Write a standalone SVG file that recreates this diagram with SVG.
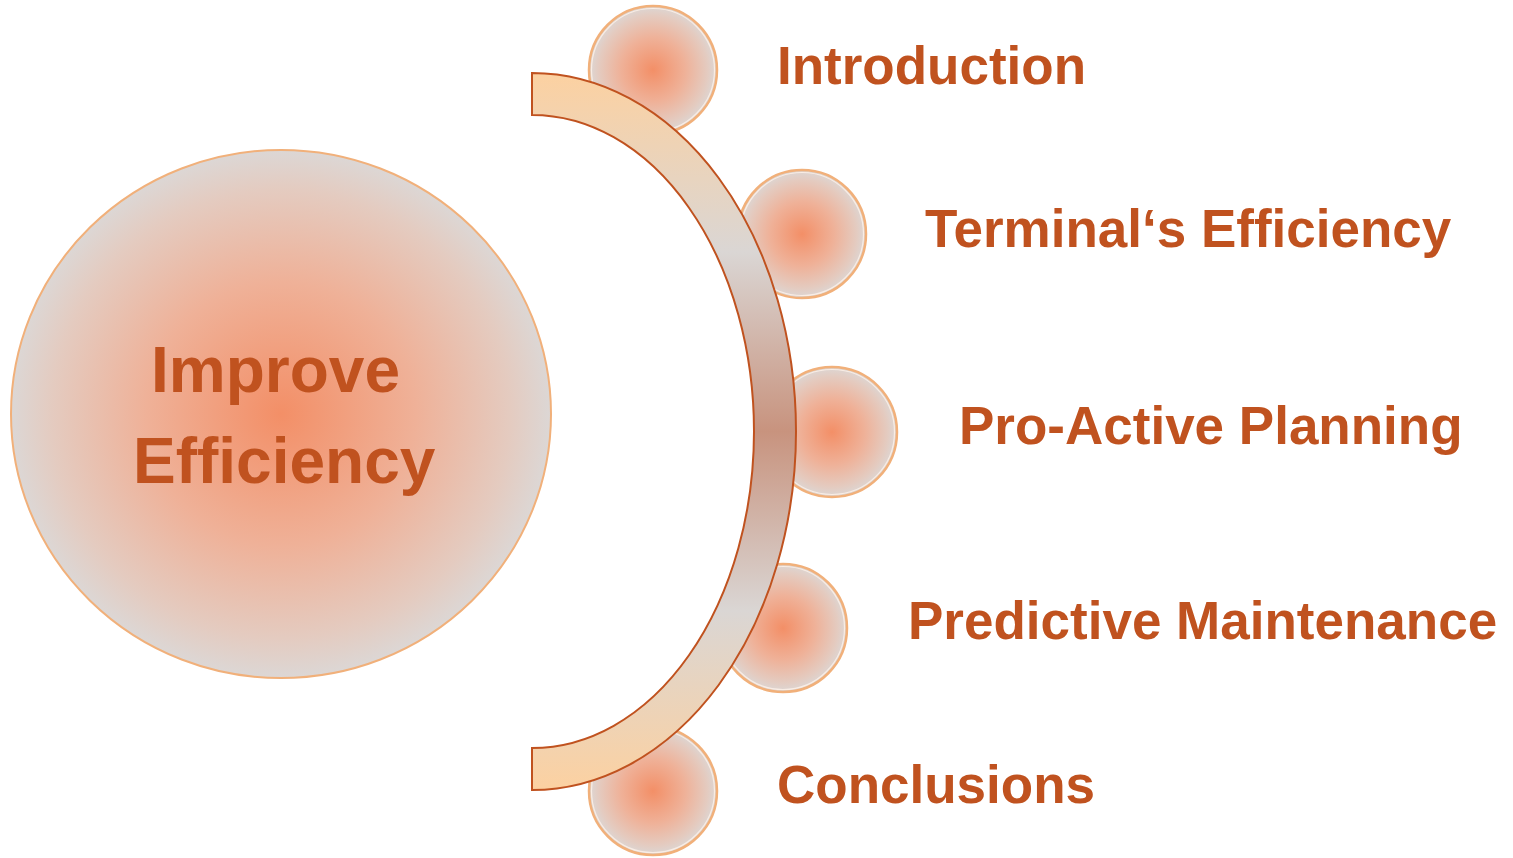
<svg xmlns="http://www.w3.org/2000/svg" width="1513" height="858" viewBox="0 0 1513 858">
<defs>
<radialGradient id="ball" cx="0.5" cy="0.5" r="0.5">
<stop offset="0" stop-color="#f38f67"/>
<stop offset="0.5" stop-color="#efb198"/>
<stop offset="0.85" stop-color="#e4cbc0"/>
<stop offset="1" stop-color="#dcd7d5"/>
</radialGradient>
<linearGradient id="arcfill" x1="0" y1="73" x2="0" y2="790" gradientUnits="userSpaceOnUse">
<stop offset="0" stop-color="#fcd1a1"/>
<stop offset="0.25" stop-color="#dad6d4"/>
<stop offset="0.5" stop-color="#c8937e"/>
<stop offset="0.75" stop-color="#dad6d4"/>
<stop offset="1" stop-color="#fcd1a1"/>
</linearGradient>
</defs>
<style>
.ball{fill:url(#ball);stroke:#f1b07a;stroke-width:2.5}
.hl{fill:none;stroke:#fff3ea;stroke-width:1.2;opacity:0.8}
.lbl{font-family:"Liberation Sans",Arial,sans-serif;font-weight:bold;font-size:53px;fill:#c0521f}
.big{font-family:"Liberation Sans",Arial,sans-serif;font-weight:bold;font-size:64px;fill:#c0521f}
</style>
<rect width="1513" height="858" fill="#ffffff"/>
<g id="center-node">
<ellipse class="ball" cx="281" cy="414" rx="270" ry="264" style="stroke-width:2"/>
<text class="big" x="151" y="392">Improve</text>
<text class="big" x="133" y="483">Efficiency</text>
</g>
<g id="node-introduction">
<circle class="ball" cx="653" cy="70" r="64"/>
<circle class="hl" cx="653" cy="70" r="61.5"/>
<text class="lbl" x="777" y="84">Introduction</text>
</g>
<g id="node-terminal">
<circle class="ball" cx="802" cy="234" r="64"/>
<circle class="hl" cx="802" cy="234" r="61.5"/>
<text class="lbl" x="925" y="247">Terminal‘s Efficiency</text>
</g>
<g id="node-proactive">
<circle class="ball" cx="832" cy="432" r="65"/>
<circle class="hl" cx="832" cy="432" r="62.5"/>
<text class="lbl" x="959" y="444">Pro-Active Planning</text>
</g>
<g id="node-predictive">
<circle class="ball" cx="783" cy="628" r="64"/>
<circle class="hl" cx="783" cy="628" r="61.5"/>
<text class="lbl" x="908" y="639">Predictive Maintenance</text>
</g>
<g id="node-conclusions">
<circle class="ball" cx="653" cy="791" r="64"/>
<circle class="hl" cx="653" cy="791" r="61.5"/>
<text class="lbl" x="777" y="803">Conclusions</text>
</g>
<g id="connectors">
<path d="M532,73 A264,358.5 0 0 1 532,790 L532,748 A222,316.5 0 0 0 532,115 Z" fill="url(#arcfill)" stroke="#c0521f" stroke-width="2"/>
</g>
</svg>
